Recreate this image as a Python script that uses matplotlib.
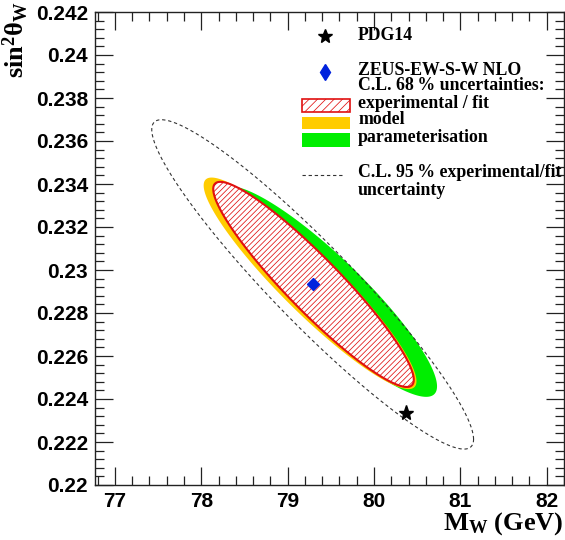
import numpy as np
import matplotlib
matplotlib.use("Agg")
import matplotlib.pyplot as plt
from matplotlib.patches import Polygon, Rectangle
from matplotlib.lines import Line2D
from matplotlib.ticker import MultipleLocator

# ---------------- data ----------------
zeus_mw = 79.29
zeus_sin2 = 0.22935
pdg_mw = 80.37
pdg_sin2 = 0.22335

# ellipse parameters: centre (MW, sin2), half extent in MW, half extent in sin2, correlation
ell95_exp = [79.29, 0.22933, 1.863, 0.00766, -0.94]
ell68_param = [79.47, 0.22900, 1.26, 0.00490, -0.90]
ell68_model = [79.26, 0.22938, 1.232, 0.00492, -0.925]
ell68_exp = [79.30, 0.22933, 1.161, 0.00477, -0.93]

x_ticks = [77, 78, 79, 80, 81, 82]
y_ticks = [0.22, 0.222, 0.224, 0.226, 0.228, 0.23, 0.232, 0.234, 0.236, 0.238, 0.24, 0.242]
y_tick_labels = ["0.22", "0.222", "0.224", "0.226", "0.228", "0.23", "0.232",
                 "0.234", "0.236", "0.238", "0.24", "0.242"]


def ellipse_xy(p, n=400):
    cx, cy, ax_, ay_, rho = p
    t = np.linspace(0, 2 * np.pi, n)
    x = cx + ax_ * np.cos(t)
    y = cy + ay_ * (rho * np.cos(t) + np.sqrt(1 - rho ** 2) * np.sin(t))
    return np.column_stack([x, y])


plt.rcParams['mathtext.fontset'] = 'custom'
plt.rcParams['mathtext.rm'] = 'Liberation Serif:bold'
plt.rcParams['mathtext.it'] = 'Liberation Serif:bold'
plt.rcParams['mathtext.bf'] = 'Liberation Serif:bold'
plt.rcParams['hatch.color'] = '#d04040'
plt.rcParams['hatch.linewidth'] = 0.55

fig = plt.figure(figsize=(5.65, 5.4), dpi=100)
ax = fig.add_axes([95 / 565, 1 - 485 / 540, 469 / 565, 473 / 540])

# ellipses
ax.add_patch(Polygon(ellipse_xy(ell68_param), closed=True, facecolor='#00ee00', edgecolor='none', zorder=2))
ax.add_patch(Polygon(ellipse_xy(ell68_model), closed=True, facecolor='#ffcc00', edgecolor='none', zorder=3))
ax.add_patch(Polygon(ellipse_xy(ell68_exp), closed=True, facecolor='white', edgecolor='none', zorder=4))
ax.add_patch(Polygon(ellipse_xy(ell68_exp), closed=True, facecolor='none', edgecolor='#e01010',
                     hatch='//////', linewidth=1.5, zorder=5))
e95 = ellipse_xy(ell95_exp)
ax.plot(e95[:, 0], e95[:, 1], color='#333333', linestyle=(0, (3, 2.5)), linewidth=0.8, zorder=6)

ax.plot([zeus_mw], [zeus_sin2], marker='D', color='#0022dd', markersize=6, linestyle='none', zorder=7)
ax.plot([pdg_mw], [pdg_sin2], marker='*', color='black', markersize=11, linestyle='none', zorder=7)

ax.set_xlim(76.77, 82.2)
ax.set_ylim(0.22, 0.242)
ax.set_xticks(x_ticks)
ax.set_xticklabels([str(v) for v in x_ticks])
ax.set_yticks(y_ticks)
ax.set_yticklabels(y_tick_labels)
ax.xaxis.set_minor_locator(MultipleLocator(0.2))
ax.yaxis.set_minor_locator(MultipleLocator(0.0004))
ax.tick_params(which='both', direction='in', top=True, right=True, color='#222222', width=0.9)
ax.tick_params(which='major', length=13, pad=5)
ax.tick_params(which='minor', length=6.5)
for lab in ax.get_xticklabels() + ax.get_yticklabels():
    lab.set_fontfamily('Liberation Sans')
    lab.set_fontweight('bold')
    lab.set_fontsize(15)
for s in ax.spines.values():
    s.set_linewidth(1.0)
    s.set_color('#222222')

# axis titles
fig.text(0.997, 0.005, r'$\mathbf{M_W}$ (GeV)', ha='right', va='bottom',
         fontfamily='Liberation Serif', fontweight='bold', fontsize=19)
fig.text(0.028, 0.997, r'$\mathbf{sin^2\theta_W}$', ha='center', va='top', rotation=90,
         fontsize=19)

# legend (axes coordinates)
tf = dict(transform=ax.transAxes, fontfamily='Liberation Serif', fontweight='bold',
          fontsize=12.8, va='center', ha='left', zorder=10)
tx = 0.561
ax.plot([0.490], [0.949], marker='*', color='black', markersize=10, transform=ax.transAxes, clip_on=False)
ax.text(tx, 0.951, 'PDG14', **tf)
ax.plot([0.490], [0.873], marker='d', color='#0022dd', markersize=8, transform=ax.transAxes, clip_on=False)
ax.text(tx, 0.877, 'ZEUS-EW-S-W NLO', **tf)
ax.text(tx, 0.844, 'C.L. 68\u2009% uncertainties:', **tf)
ax.add_patch(Rectangle((0.441, 0.789), 0.102, 0.028, transform=ax.transAxes, facecolor='white',
                       edgecolor='#e01010', hatch='////', linewidth=1.2, zorder=10))
ax.text(tx, 0.806, 'experimental / fit', **tf)
ax.add_patch(Rectangle((0.441, 0.753), 0.102, 0.025, transform=ax.transAxes, facecolor='#ffcc00',
                       edgecolor='none', zorder=10))
ax.text(tx, 0.772, 'model', **tf)
ax.add_patch(Rectangle((0.441, 0.715), 0.102, 0.029, transform=ax.transAxes, facecolor='#00ee00',
                       edgecolor='none', zorder=10))
ax.text(tx, 0.734, 'parameterisation', **tf)
ax.add_line(Line2D([0.441, 0.529], [0.655, 0.655], transform=ax.transAxes, color='#333333',
                   linestyle=(0, (3, 2.5)), linewidth=0.8))
ax.text(tx, 0.660, 'C.L. 95\u2009% experimental/fit', **tf)
ax.text(tx, 0.622, 'uncertainty', **tf)

fig.savefig('out.png', dpi=100)
